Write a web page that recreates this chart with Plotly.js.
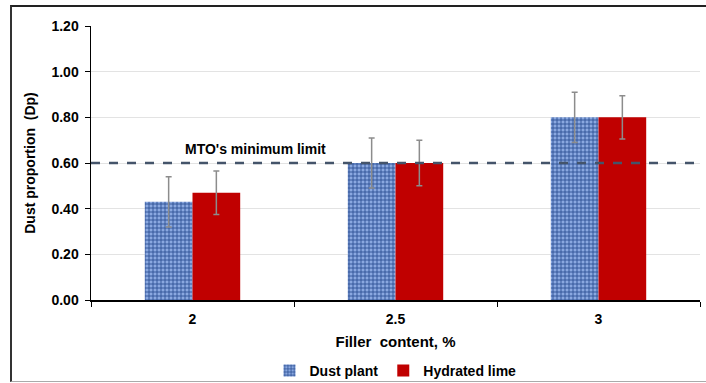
<!DOCTYPE html>
<html>
<head>
<meta charset="utf-8">
<script src="https://cdn.plot.ly/plotly-3.0.1.min.js"></script>
<style>
html,body{margin:0;padding:0;background:#fff;}
#wrap{position:relative;width:706px;height:383px;overflow:hidden;}
#frame{position:absolute;left:10px;top:5px;width:700px;height:377px;border-left:2px solid #333;border-top:2px solid #222;border-bottom:1px solid #aaa;box-sizing:border-box;pointer-events:none;z-index:5;}
#chart{position:absolute;left:0;top:0;width:706px;height:383px;}
</style>
</head>
<body>
<div id="wrap"><div id="chart"></div><div id="frame"></div></div>
<script>
var categories = ['2', '2.5', '3'];
var dustPlant = [0.43, 0.60, 0.80];
var dustPlantErr = [0.11, 0.11, 0.11];
var hydratedLime = [0.47, 0.60, 0.80];
var hydratedLimeErr = [0.095, 0.10, 0.095];
var mtoLimit = 0.60;
var yTicks = [0, 0.2, 0.4, 0.6, 0.8, 1.0, 1.2];

var font = 'Liberation Sans, Arial, sans-serif';

var traces = [
  {
    type: 'bar', name: 'Dust plant', x: categories, y: dustPlant,
    marker: {color: '#7f9fd8', pattern: {shape: '+', bgcolor: '#8aa8e0', fgcolor: '#2c4f94', size: 4, solidity: 0.4}},
    error_y: {type: 'data', array: dustPlantErr, visible: true, color: '#8c8c8c', thickness: 1.5, width: 3}
  },
  {
    type: 'bar', name: 'Hydrated lime', x: categories, y: hydratedLime,
    marker: {color: '#c00000'},
    error_y: {type: 'data', array: hydratedLimeErr, visible: true, color: '#8c8c8c', thickness: 1.5, width: 3}
  }
];

var layout = {
  width: 706, height: 383,
  margin: {l: 91, r: 6, t: 26, b: 83, autoexpand: false},
  paper_bgcolor: '#fff', plot_bgcolor: '#fff',
  barmode: 'group', bargap: 0.53, bargroupgap: 0,
  showlegend: true,
  legend: {orientation: 'h', x: 0.5, xanchor: 'center', y: -0.2, yanchor: 'top',
    font: {family: font, size: 14, color: '#000', weight: 'bold'}, itemwidth: 30, traceorder: 'normal'},
  xaxis: {
    type: 'category', categoryorder: 'array', categoryarray: categories, automargin: false,
    showline: true, linecolor: '#000', linewidth: 1.5,
    ticks: 'outside', tickson: 'boundaries', ticklen: 5, tickcolor: '#000', ticklabelstandoff: 6,
    tickfont: {family: font, size: 14, color: '#000', weight: 'bold'},
    title: {text: 'Filler  content, %', font: {family: font, size: 15, color: '#000', weight: 'bold'}, standoff: 10},
    showgrid: false
  },
  yaxis: {
    range: [0, 1.2], tickvals: yTicks, tickformat: '.2f', automargin: false,
    showline: true, linecolor: '#000', linewidth: 1.5,
    ticks: 'outside', ticklen: 5, tickcolor: '#000', ticklabelstandoff: 3,
    showgrid: true, gridcolor: '#e3e3e3', gridwidth: 1, zeroline: false,
    tickfont: {family: font, size: 14, color: '#000', weight: 'bold'},
    title: {text: 'Dust proportion  (Dp)', font: {family: font, size: 14, color: '#000', weight: 'bold'}, standoff: 12}
  },
  shapes: [
    {type: 'line', xref: 'paper', x0: 0, x1: 1, yref: 'y', y0: mtoLimit, y1: mtoLimit,
     line: {color: '#44546a', width: 2.5, dash: 'dash'}}
  ],
  annotations: [
    {xref: 'paper', x: 0.27, yref: 'y', y: mtoLimit, yshift: 4, xanchor: 'center', yanchor: 'bottom',
     text: "MTO's minimum limit", showarrow: false,
     font: {family: font, size: 14, color: '#000', weight: 'bold'}}
  ]
};

Plotly.newPlot('chart', traces, layout, {displayModeBar: false, staticPlot: true});
</script>
</body>
</html>
